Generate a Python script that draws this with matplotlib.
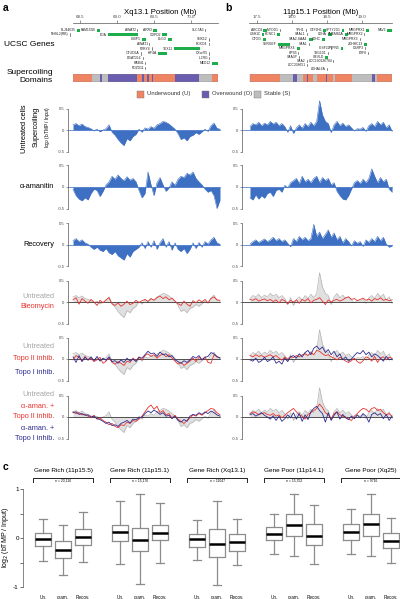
import numpy as np
import matplotlib
matplotlib.use('Agg')
import matplotlib.pyplot as plt
from matplotlib.patches import Rectangle

plt.rcParams['font.family'] = ['Liberation Sans', 'DejaVu Sans']
plt.rcParams['axes.linewidth'] = 0.5

# ---------------- data ----------------
# genes: (name, start Mb, end Mb, row y in px, green box?)
genes_a = [
    ("FLJ44635", 68.46, 68.50, 30, True), ("FAM155B", 68.73, 68.77, 30, True),
    ("AWAT2", 69.27, 69.275, 30, False), ("ARR3", 69.49, 69.54, 30, True),
    ("SLC7A3", 70.19, 70.195, 30, False),
    ("NHSL2(RB)", 68.36, 68.365, 34.5, False), ("EDA", 68.88, 69.28, 34.5, True),
    ("GDPD2", 69.61, 69.68, 34.5, True),
    ("IGBP1", 69.34, 69.39, 39.5, True), ("DLG3", 69.69, 69.74, 39.5, True),
    ("SNX12", 70.24, 70.245, 39.5, False),
    ("AWAT1", 69.43, 69.435, 44, False), ("FOXO4", 70.24, 70.245, 44, False),
    ("P2RY4", 69.47, 69.475, 48.5, False), ("TEX11", 69.77, 70.12, 48.5, True),
    ("OTUD6A", 69.32, 69.325, 53.5, False), ("KIF4A", 69.55, 69.68, 53.5, True),
    ("CXorf65", 70.25, 70.255, 53.5, False),
    ("DGAT2L6", 69.35, 69.355, 58, False), ("IL2RG", 70.25, 70.255, 58, False),
    ("RAB41", 69.38, 69.385, 63, False), ("MED12", 70.28, 70.36, 63, True),
    ("PDZD11", 69.38, 69.385, 68, False),
]
genes_b = [
    ("ABCC8", 17.59, 17.64, 30, True), ("MYOD1", 17.83, 17.835, 30, False),
    ("TPH1", 18.20, 18.205, 30, False), ("GTF2H1", 18.45, 18.48, 30, True),
    ("SPTY2D1", 18.71, 18.74, 30, True), ("MRGPRX1", 19.06, 19.09, 30, True),
    ("NAV2", 19.36, 19.43, 30, True),
    ("USH1C", 17.57, 17.60, 34, True), ("KCNC1", 17.79, 17.83, 34, True),
    ("SAAL1", 18.21, 18.215, 34, False), ("LDHA", 18.51, 18.57, 34, True),
    ("TMEM86A", 18.76, 18.79, 34, True), ("MRGPRX2", 19.03, 19.035, 34, False),
    ("OTOG", 17.59, 17.63, 39, True), ("SAA2-SAA4", 18.24, 18.30, 39, True),
    ("LDHC", 18.43, 18.47, 39, True), ("MRGPRX3", 18.97, 18.975, 39, False),
    ("SERGEF", 17.80, 17.97, 44, True), ("SAA1", 18.24, 18.245, 44, False),
    ("ZDHHC13", 19.03, 19.07, 44, True),
    ("MRGPRX4", 18.07, 18.11, 48, True), ("IGSF22", 18.56, 18.565, 48, False),
    ("PTPN5", 18.70, 18.73, 48, True), ("CSRP3", 19.04, 19.045, 48, False),
    ("HPS5", 18.09, 18.095, 53, False), ("TSG101", 18.51, 18.515, 53, False),
    ("E2F8", 19.09, 19.095, 53, False),
    ("SAA3P", 18.10, 18.105, 57, False), ("UEVLD", 18.47, 18.51, 57, True),
    ("SAA2", 18.21, 18.215, 61, False), ("LOC100126784", 18.59, 18.595, 61, False),
    ("LOC338651", 18.21, 18.215, 65, False), ("LDHAL6A", 18.50, 18.505, 69, False),
]

# supercoiling domains: (start Mb, end Mb, type)
domains_a = [
    (68.405, 68.662, 'U'), (68.662, 68.770, 'S'), (68.770, 68.797, 'O'),
    (68.797, 68.878, 'S'), (68.878, 69.270, 'O'), (69.270, 69.338, 'U'),
    (69.338, 69.358, 'O'), (69.358, 69.405, 'U'), (69.405, 69.426, 'O'),
    (69.426, 69.473, 'U'), (69.473, 69.493, 'O'), (69.493, 69.784, 'U'),
    (69.784, 70.108, 'O'), (70.108, 70.284, 'S'), (70.284, 70.365, 'U'),
]
domains_b = [
    (17.400, 17.829, 'U'), (17.829, 18.019, 'S'), (18.019, 18.067, 'O'),
    (18.067, 18.161, 'S'), (18.161, 18.219, 'U'), (18.219, 18.236, 'O'),
    (18.236, 18.296, 'U'), (18.296, 18.353, 'S'), (18.353, 18.486, 'U'),
    (18.486, 18.504, 'O'), (18.504, 18.590, 'U'), (18.590, 18.614, 'S'),
    (18.614, 18.853, 'U'), (18.853, 19.139, 'S'), (19.139, 19.186, 'O'),
    (19.186, 19.219, 'S'), (19.219, 19.429, 'U'),
]

# log2(bTMP/Input) tracks, 50 bins each
untreated_a = [0.12, 0.15, 0.10, 0.14, 0.08, 0.06, 0.03, -0.02, 0.02, -0.04,
               0.00, 0.03, 0.12, -0.05, -0.12, -0.22, -0.30, -0.36, -0.20, -0.25,
               -0.15, -0.10, 0.02, -0.05, 0.05, 0.02, 0.08, 0.04, 0.12, 0.15,
               0.20, 0.18, 0.14, 0.08, 0.02, -0.08, -0.22, -0.18, -0.25, -0.15,
               -0.12, -0.06, -0.10, -0.04, 0.02, -0.03, 0.10, 0.16, 0.04, 0.02]
amanitin_a = [-0.05, -0.20, -0.28, -0.32, -0.25, -0.30, -0.15, -0.05, -0.08, -0.22,
              -0.10, 0.05, 0.12, 0.25, 0.18, 0.28, 0.20, 0.15, 0.24, 0.16,
              0.20, 0.12, -0.08, -0.25, -0.15, 0.35, 0.05, -0.20, 0.10, 0.22,
              0.05, -0.10, -0.02, 0.12, 0.04, 0.18, 0.25, 0.22, 0.32, 0.28,
              0.35, 0.20, 0.12, 0.05, -0.05, -0.12, -0.08, -0.20, -0.50, -0.30]
recovery_a = [0.10, 0.15, 0.08, 0.12, 0.05, 0.02, -0.05, -0.10, -0.05, -0.12,
              -0.15, -0.08, -0.18, -0.22, -0.15, -0.25, -0.30, -0.35, -0.20, -0.28,
              -0.15, -0.10, -0.05, 0.05, -0.08, 0.08, -0.05, 0.10, -0.10, 0.05,
              0.15, -0.05, 0.08, -0.12, 0.05, -0.10, -0.15, -0.08, -0.20, -0.10,
              0.05, -0.08, 0.06, -0.05, 0.08, 0.02, 0.12, 0.18, 0.05, 0.02]
bleo_a = [0.05, 0.10, -0.05, 0.08, 0.02, -0.03, 0.06, 0.00, -0.08, 0.04,
          -0.02, 0.05, 0.10, -0.04, -0.08, -0.02, -0.10, -0.05, 0.02, -0.06,
          -0.03, 0.04, -0.02, 0.03, 0.06, 0.01, 0.08, 0.04, 0.10, 0.14,
          0.08, 0.12, 0.05, 0.09, 0.02, -0.04, -0.08, 0.02, -0.05, -0.10,
          0.03, -0.02, 0.05, 0.00, 0.06, -0.02, 0.08, 0.12, 0.05, 0.04]
topo2_a = [-0.02, 0.08, 0.04, -0.05, 0.06, -0.03, 0.02, -0.06, -0.02, 0.04,
           -0.10, -0.05, 0.03, -0.08, -0.12, -0.06, -0.10, -0.15, -0.05, -0.08,
           0.02, -0.04, 0.05, -0.02, 0.08, 0.12, 0.06, 0.10, 0.02, 0.08,
           0.12, 0.05, 0.10, 0.02, -0.05, -0.12, -0.08, -0.15, -0.10, -0.05,
           0.02, -0.06, 0.04, -0.02, 0.05, -0.08, -0.10, 0.10, 0.05, 0.03]
topo1_a = [0.05, -0.08, 0.08, -0.06, 0.04, -0.02, 0.05, -0.04, 0.06, -0.05,
           0.02, -0.03, 0.05, -0.06, -0.04, -0.10, -0.02, -0.08, 0.02, -0.05,
           0.00, -0.06, 0.04, 0.02, 0.10, 0.18, 0.12, 0.14, 0.06, 0.16,
           0.10, 0.12, 0.05, 0.08, -0.02, -0.06, -0.10, -0.04, -0.08, -0.02,
           0.06, 0.02, 0.08, -0.02, 0.04, 0.06, 0.15, 0.12, 0.06, 0.02]
aman_topo2_a = [0.12, 0.08, 0.10, 0.05, 0.06, 0.02, -0.02, 0.04, -0.05, -0.02,
                -0.08, -0.12, -0.18, -0.15, -0.22, -0.25, -0.18, -0.20, -0.12, -0.15,
                -0.08, -0.10, -0.05, 0.02, 0.12, 0.22, 0.28, 0.18, 0.25, 0.10,
                0.15, 0.05, 0.08, -0.02, 0.04, -0.05, -0.10, -0.15, -0.08, -0.02,
                0.05, 0.02, 0.08, 0.04, 0.10, 0.15, 0.20, 0.18, 0.10, 0.05]
aman_topo1_a = [0.10, 0.12, 0.06, 0.08, 0.04, 0.05, 0.00, 0.02, -0.04, -0.06,
                -0.10, -0.15, -0.12, -0.20, -0.18, -0.22, -0.15, -0.12, -0.08, -0.14,
                -0.05, -0.06, -0.02, 0.00, 0.08, 0.14, 0.10, 0.16, 0.12, 0.06,
                0.10, 0.02, 0.04, -0.04, 0.02, -0.08, -0.12, -0.06, -0.10, 0.02,
                0.06, 0.04, 0.10, 0.06, 0.12, 0.08, 0.14, 0.10, 0.05, 0.02]

untreated_b = [0.08, 0.15, 0.12, 0.18, 0.10, 0.16, 0.12, 0.20, 0.14, 0.18,
               0.10, 0.15, 0.08, -0.05, 0.10, -0.08, 0.05, 0.12, 0.04, 0.15,
               0.08, 0.18, 0.10, 0.20, 0.68, 0.35, 0.20, 0.15, -0.06, 0.12,
               0.20, 0.10, 0.16, 0.08, 0.12, 0.05, -0.02, 0.03, 0.02, 0.06,
               -0.03, 0.10, 0.15, 0.08, 0.20, 0.12, 0.18, 0.05, 0.12, -0.03]
amanitin_b = [-0.25, -0.30, -0.18, -0.28, -0.20, -0.26, -0.15, -0.12, -0.22, -0.08,
              -0.05, -0.12, 0.04, -0.02, 0.10, 0.15, 0.20, 0.08, 0.25, 0.12,
              0.18, 0.10, 0.20, 0.25, 0.10, 0.22, 0.15, 0.20, 0.05, 0.10,
              -0.10, -0.20, -0.28, -0.30, -0.20, -0.05, 0.10, 0.15, 0.08, 0.18,
              0.10, 0.20, 0.42, 0.25, 0.10, 0.22, 0.12, 0.18, -0.05, -0.12]
recovery_b = [0.02, 0.08, 0.12, 0.06, 0.10, 0.14, 0.08, 0.12, 0.18, 0.10,
              0.15, 0.08, 0.12, 0.04, -0.04, 0.15, 0.08, 0.20, 0.12, 0.18,
              0.10, 0.15, 0.48, 0.20, 0.30, 0.15, 0.25, 0.35, 0.18, 0.28,
              0.12, 0.20, 0.05, 0.15, 0.08, -0.02, 0.10, 0.04, 0.08, -0.03,
              0.12, 0.06, 0.15, 0.08, 0.20, 0.10, 0.18, 0.02, -0.05, -0.02]
bleo_b = [0.06, 0.04, 0.08, 0.02, 0.05, 0.07, 0.03, 0.06, 0.01, 0.05,
          -0.02, 0.06, 0.03, -0.05, 0.04, 0.00, 0.05, -0.03, 0.06, 0.02,
          0.08, -0.02, 0.04, 0.06, 0.10, 0.02, -0.06, 0.05, 0.00, 0.04,
          0.06, 0.02, 0.05, 0.10, 0.12, 0.06, 0.08, 0.03, 0.06, 0.09,
          0.04, 0.07, 0.02, 0.08, 0.05, 0.10, 0.04, 0.06, 0.03, 0.05]
topo2_b = [0.08, 0.05, 0.10, 0.06, 0.08, 0.04, 0.07, 0.10, 0.05, 0.08,
           0.02, -0.03, 0.05, 0.00, 0.06, 0.03, 0.08, 0.05, 0.10, 0.12,
           0.08, 0.15, 0.10, 0.20, 0.18, 0.12, 0.08, 0.10, 0.05, 0.02,
           -0.02, 0.04, 0.00, -0.05, -0.08, -0.04, 0.02, -0.06, -0.10, -0.04,
           0.05, 0.02, -0.05, 0.06, -0.08, 0.02, 0.05, -0.02, 0.04, 0.02]
topo1_b = [-0.02, -0.05, 0.02, -0.08, -0.04, 0.04, -0.06, -0.02, 0.05, -0.10,
           -0.05, -0.12, 0.02, -0.06, 0.05, 0.08, 0.02, 0.12, 0.05, 0.15,
           0.20, 0.10, 0.25, 0.30, 0.22, 0.28, 0.15, 0.22, 0.10, 0.18,
           0.05, 0.12, -0.02, 0.05, -0.05, 0.00, 0.08, 0.15, 0.12, 0.20,
           0.10, 0.16, 0.05, 0.12, 0.08, 0.02, -0.05, 0.06, -0.02, 0.00]
aman_topo2_b = [0.08, 0.12, 0.10, 0.05, 0.08, 0.10, 0.06, 0.04, 0.08, 0.02,
                0.05, -0.02, 0.04, 0.10, 0.15, 0.20, 0.12, 0.05, 0.02, -0.05,
                0.06, 0.10, 0.15, 0.20, 0.30, 0.22, 0.10, 0.05, -0.05, 0.08,
                0.12, 0.05, 0.02, 0.00, -0.05, -0.08, 0.02, 0.08, 0.15, 0.20,
                0.18, 0.12, 0.20, 0.22, 0.15, 0.18, 0.10, 0.05, 0.08, 0.02]
aman_topo1_b = [0.05, 0.08, 0.02, 0.06, 0.10, 0.04, 0.00, -0.05, 0.03, -0.08,
                0.02, -0.10, -0.04, 0.05, -0.02, 0.10, -0.05, 0.08, -0.10, 0.05,
                -0.06, 0.12, 0.20, 0.25, 0.15, 0.08, -0.12, 0.10, -0.08, 0.04,
                0.12, -0.05, 0.06, -0.02, -0.06, 0.02, -0.04, 0.05, -0.02, 0.08,
                0.02, -0.12, 0.06, 0.10, 0.04, 0.08, -0.04, 0.06, -0.08, 0.02]

# panel c box statistics: groups x (Un., a-am., Recov.)
group_names = ["Gene Rich (11p15.5)", "Gene Rich (11p15.1)", "Gene Rich (Xq13.1)",
               "Gene Poor (11p14.1)", "Gene Poor (Xq25)"]
group_n = ["n = 20,126", "n = 15,176", "n = 11047", "n = 15,352", "n = 9716"]
cond_labels = ["Un.", "α-am.", "Recov."]
box_med = [[-0.03, -0.24, 0.02], [0.12, -0.05, 0.10], [-0.03, -0.12, -0.09],
           [0.08, 0.27, 0.05], [0.12, 0.29, -0.07]]
box_q1 = [[-0.17, -0.41, -0.15], [-0.07, -0.26, -0.05], [-0.18, -0.39, -0.26],
          [-0.05, 0.05, -0.14], [-0.05, 0.05, -0.21]]
box_q3 = [[0.10, -0.07, 0.18], [0.26, 0.20, 0.27], [0.09, 0.18, 0.08],
          [0.23, 0.48, 0.28], [0.29, 0.48, 0.10]]
box_lo = [[-0.46, -0.75, -0.48], [-0.54, -0.94, -0.50], [-0.44, -0.96, -0.56],
          [-0.33, -0.37, -0.54], [-0.33, -0.37, -0.52]]
box_hi = [[0.39, 0.27, 0.53], [0.75, 0.90, 0.71], [0.36, 0.76, 0.39],
          [0.50, 0.89, 0.68], [0.60, 0.90, 0.41]]

# ---------------- colours ----------------
BLUE = '#3D6FC2'
RED = '#E8332E'
NAVY = '#2E2C8E'
GREY = '#B3B3B3'
GREEN = '#1DAE4B'
DOM_COL = {'U': '#EF8463', 'O': '#6B5DAE', 'S': '#BDBDBD'}

W, H = 400, 599
fig = plt.figure(figsize=(W / 100, H / 100), dpi=100)


def add_ax(x0, y0, x1, y1):
    ax = fig.add_axes([x0 / W, 1 - y1 / H, (x1 - x0) / W, (y1 - y0) / H])
    ax.patch.set_alpha(0)
    return ax


def ftext(x, y, s, **kw):
    kw.setdefault('va', 'center')
    fig.text(x / W, 1 - y / H, s, **kw)


# ---------------- gene + domain tracks ----------------
def gene_panel(px0, px1, lim, ticks, genes, domains):
    ax = add_ax(px0, 23, px1, 72)
    ax.set_xlim(lim)
    ax.set_ylim(72, 23)
    for s in ['left', 'right', 'bottom']:
        ax.spines[s].set_visible(False)
    ax.spines['top'].set_color('#555555')
    ax.xaxis.tick_top()
    ax.set_xticks(ticks)
    ax.set_xticklabels(['%.1f' % t for t in ticks])
    ax.tick_params(axis='x', labelsize=3.2, length=2, width=0.4, pad=0.8,
                   colors='#444444')
    ax.set_yticks([])
    dx = (lim[1] - lim[0]) / (px1 - px0)
    for name, s, e, y, green in genes:
        if green:
            ax.add_patch(Rectangle((s, y - 1.5), max(e - s, 2.5 * dx), 3,
                                   color=GREEN, lw=0, clip_on=False))
        else:
            ax.plot([s, s], [y - 1.4, y + 1.4], color='#222222', lw=0.4,
                    clip_on=False)
        ax.text(s - 1.2 * dx, y, name, ha='right', va='center', fontsize=2.4,
                color='#222222', clip_on=False)

    dax = add_ax(px0, 74, px1, 82)
    dax.set_xlim(lim)
    dax.set_ylim(0, 1)
    dax.axis('off')
    for s, e, t in domains:
        dax.add_patch(Rectangle((s, 0), e - s, 1, color=DOM_COL[t], lw=0))
    dax.add_patch(Rectangle((domains[0][0], 0), domains[-1][1] - domains[0][0], 1,
                            fill=False, edgecolor='#8A8A8A', lw=0.3))


gene_panel(73, 218, (68.405, 70.365), [68.5, 69.0, 69.5, 70.0], genes_a, domains_a)
gene_panel(249, 392, (17.386, 19.429), [17.5, 18.0, 18.5, 19.0], genes_b, domains_b)

# ---------------- supercoiling tracks ----------------
zero_y = [130, 187, 245, 302, 359, 417]
UNIT = 43.0  # px per 1.0 of log2 ratio

panels = [
    dict(px=(68, 222), lim=(68.338, 70.392), xs=np.linspace(68.405, 70.365, 50),
         untr=untreated_a, aman=amanitin_a, recov=recovery_a, bleo=bleo_a,
         t2=topo2_a, t1=topo1_a, at2=aman_topo2_a, at1=aman_topo1_a),
    dict(px=(242, 395), lim=(17.286, 19.471), xs=np.linspace(17.40, 19.429, 50),
         untr=untreated_b, aman=amanitin_b, recov=recovery_b, bleo=bleo_b,
         t2=topo2_b, t1=topo1_b, at2=aman_topo2_b, at1=aman_topo1_b),
]

for p in panels:
    xs = p['xs']
    for r, z in enumerate(zero_y):
        ax = add_ax(p['px'][0], z - 30, p['px'][1], z + 30)
        ax.set_xlim(p['lim'])
        ax.set_ylim(-30 / UNIT, 30 / UNIT)
        for s in ['top', 'right', 'bottom']:
            ax.spines[s].set_visible(False)
        ax.spines['left'].set_bounds(-0.5, 0.5)
        ax.spines['left'].set_color('#555555')
        ax.set_xticks([])
        ax.set_yticks([-0.5, 0, 0.5])
        ax.set_yticklabels(['-0.5', '0', '0.5'])
        ax.tick_params(axis='y', labelsize=3, length=1.5, width=0.4, pad=1,
                       colors='#444444')
        if r < 3:
            v = [p['untr'], p['aman'], p['recov']][r]
            ax.plot([p['lim'][0], xs[-1]], [0, 0], color=BLUE, lw=0.5)
            ax.fill_between(xs, 0, v, color=BLUE, lw=0)
            ax.plot(xs, v, color=BLUE, lw=0.4)
        else:
            ax.fill_between(xs, 0, p['untr'], color=GREY, alpha=0.4, lw=0)
            ax.plot(xs, p['untr'], color=GREY, lw=0.5)
            ax.plot([p['lim'][0], xs[-1]], [0, 0], color='#111111', lw=0.5)
            if r == 3:
                ax.plot(xs, p['bleo'], color=RED, lw=0.6)
            elif r == 4:
                ax.plot(xs, p['t2'], color=RED, lw=0.6)
                ax.plot(xs, p['t1'], color=NAVY, lw=0.6)
            else:
                ax.plot(xs, p['at2'], color=RED, lw=0.6)
                ax.plot(xs, p['at1'], color=NAVY, lw=0.6)

# ---------------- labels for panels a / b ----------------
ftext(3, 8, 'a', fontsize=7.5, fontweight='bold')
ftext(225, 8, 'b', fontsize=7.5, fontweight='bold')
ftext(160, 13, 'Xq13.1 Position (Mb)', ha='center', fontsize=5.6)
ftext(321, 13, '11p15.1 Position (Mb)', ha='center', fontsize=5.6)
ftext(54, 44, 'UCSC Genes', ha='right', fontsize=6)
ftext(53, 72, 'Supercoiling', ha='right', fontsize=6)
ftext(53, 81, 'Domains', ha='right', fontsize=6)

legend_items = [(137, 'Underwound (U)', 'U'), (202, 'Overwound (O)', 'O'),
                (254, 'Stable (S)', 'S')]
for lx, lab, t in legend_items:
    fig.add_artist(Rectangle((lx / W, 1 - 97.5 / H), 7 / W, 7 / H,
                             transform=fig.transFigure, facecolor=DOM_COL[t],
                             edgecolor='#777777', lw=0.3))
    ftext(lx + 10, 94, lab, fontsize=4.2, color='#333333')

ftext(25, 129, 'Untreated cells', rotation=90, ha='center', fontsize=5.3)
ftext(36, 127, 'Supercoiling', rotation=90, ha='center', fontsize=5.3)
ftext(47, 127, 'log$_2$ (bTMP / Input)', rotation=90, ha='center', fontsize=3.4)
ftext(54, 187, 'α-amanitin', ha='right', fontsize=5.3)
ftext(54, 245, 'Recovery', ha='right', fontsize=5.3)
ftext(54, 296, 'Untreated', ha='right', fontsize=5.3, color='#A6A6A6')
ftext(54, 307, 'Bleomycin', ha='right', fontsize=5.3, color=RED)
ftext(54, 347, 'Untreated', ha='right', fontsize=5.3, color='#A6A6A6')
ftext(54, 359, 'Topo II inhib.', ha='right', fontsize=5.3, color=RED)
ftext(54, 372, 'Topo I inhib.', ha='right', fontsize=5.3, color=NAVY)
ftext(54, 395, 'Untreated', ha='right', fontsize=5.3, color='#A6A6A6')
ftext(54, 406, 'α-aman. +', ha='right', fontsize=5.3, color=RED)
ftext(54, 417, 'Topo II inhib.', ha='right', fontsize=5.3, color=RED)
ftext(54, 428, 'α-aman. +', ha='right', fontsize=5.3, color=NAVY)
ftext(54, 438, 'Topo I inhib.', ha='right', fontsize=5.3, color=NAVY)

# ---------------- panel c: box plots ----------------
ftext(3, 467, 'c', fontsize=7.5, fontweight='bold')
bax = add_ax(23, 484, 400, 592)
bax.set_xlim(-1.0, 17.85)
bax.set_ylim(-54 / 49, 54 / 49)

stats, pos, labels = [], [], []
for g in range(len(group_names)):
    base = 3.85 * g
    for k in range(3):
        stats.append(dict(med=box_med[g][k], q1=box_q1[g][k], q3=box_q3[g][k],
                          whislo=box_lo[g][k], whishi=box_hi[g][k], fliers=[]))
        pos.append(base + k)
        labels.append(cond_labels[k])
    bax.text(base + 1, 1.37, group_names[g], ha='center', va='center',
             fontsize=4.6, clip_on=False)
    bax.plot([base - 0.5, base - 0.5, base + 2.5, base + 2.5],
             [1.14, 1.225, 1.225, 1.14], color='#222222', lw=0.7, clip_on=False)
    bax.text(base + 1, 1.165, group_n[g], ha='center', va='center',
             fontsize=2.4, clip_on=False)

grey_line = dict(color='#8C8C8C', lw=0.9)
bax.bxp(stats, positions=pos, widths=0.83, showfliers=False, capwidths=0.4,
        boxprops=grey_line, whiskerprops=grey_line, capprops=grey_line,
        medianprops=dict(color='black', lw=1.8))

for s in ['top', 'right', 'bottom']:
    bax.spines[s].set_visible(False)
bax.spines['left'].set_bounds(-1, 1)
bax.spines['left'].set_color('#555555')
bax.set_yticks([-1, -0.5, 0, 0.5, 1])
bax.set_yticklabels(['-1', '', '0', '', '1'])
bax.tick_params(axis='y', labelsize=4.5, length=2, width=0.4, pad=1)
bax.set_xticks(pos)
bax.set_xticklabels(labels)
bax.tick_params(axis='x', labelsize=3.3, length=0, pad=2)
ftext(6, 538, 'log$_2$ (bTMP / Input)', rotation=90, ha='center', fontsize=5)

fig.savefig('out.png', dpi=100)
